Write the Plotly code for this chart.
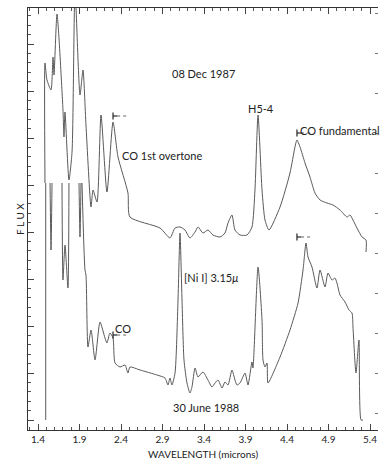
import plotly.graph_objects as go

# ---- data (wavelength in microns, flux in arbitrary units) ----
dec87_wl = [1.484, 1.484, 1.508, 1.557, 1.581, 1.593, 1.629, 1.701, 1.713, 1.725, 1.773, 1.810,
            1.846, 1.906, 1.942, 1.978, 2.039, 2.063, 2.111, 2.159, 2.231, 2.304, 2.364, 2.484,
            2.508, 2.870, 2.990, 3.051, 3.111, 3.171, 3.231, 3.292, 3.328, 3.388, 3.448, 3.508,
            3.593, 3.653, 3.689, 3.737, 3.773, 3.834, 3.918, 3.978, 4.014, 4.051, 4.099, 4.135,
            4.183, 4.316, 4.436, 4.496, 4.520, 4.557, 4.617, 4.677, 4.737, 4.798, 4.882, 4.954,
            5.039, 5.123, 5.159, 5.195, 5.243, 5.304, 5.352, 5.352]
dec87_flux = [247, 367, 350, 340, 373, 355, 416, 320, 293, 318, 250, 278,
              440, 335, 360, 305, 223, 240, 228, 315, 238, 308, 273, 237,
              213, 202, 192, 202, 203, 200, 192, 198, 203, 197, 200, 195,
              193, 197, 207, 215, 200, 195, 195, 203, 240, 315, 240, 210,
              200, 223, 257, 283, 290, 283, 267, 253, 237, 230, 227, 225,
              220, 213, 215, 210, 202, 193, 190, 178]

jun88_wl = [1.493, 1.493, None,
            1.545, 1.557, 1.569, None,
            1.689, 1.701, 1.725, 1.761, 1.773, None,
            1.894, 1.906, 1.918, None,
            1.930, 1.966, 1.978, 2.002, 2.039, 2.087, 2.147, 2.207, 2.231, 2.267, 2.304, 2.328,
            2.388, 2.448, 2.484, 2.508, 2.629, 2.834, 2.930, 2.966, 2.990, 3.014, 3.051, 3.087,
            3.111, 3.135, 3.159, 3.195, 3.231, 3.255, 3.292, 3.328, 3.388, 3.448, 3.496, 3.533,
            3.569, 3.617, 3.653, 3.689, 3.737, 3.773, 3.798, 3.834, 3.894, 3.930, 3.978, 3.990,
            4.051, 4.099, 4.111, 4.135, 4.159, 4.171, 4.316, 4.436, 4.533, 4.593, 4.629, 4.653,
            4.701, 4.761, 4.798, 4.858, 4.894, 4.942, 4.978, 5.002, 5.039, 5.099, 5.147, 5.183,
            5.195, 5.231, 5.267, 5.292, 5.316]
jun88_flux = [10, 247, None,
              247, 180, 247, None,
              247, 150, 185, 142, 247, None,
              247, 193, 247, None,
              247, 160, 155, 83, 100, 70, 108, 92, 87, 97, 92, 67,
              63, 65, 57, 63, 60, 55, 52, 45, 52, 45, 57, 130,
              197, 130, 70, 47, 37, 43, 62, 53, 58, 50, 43, 47,
              50, 42, 48, 45, 60, 50, 45, 47, 57, 45, 68, 62,
              163, 110, 70, 63, 67, 47, 73, 100, 127, 160, 187, 173,
              163, 142, 160, 143, 157, 150, 152, 147, 135, 128, 120, 117,
              103, 57, 90, 10, 10]

# CO band-head markers (start wavelength, flux level)
mark_wl = [2.304, 4.520, 2.304, 4.520]
mark_flux = [314, 297, 95, 193]

xtick_vals = [1.4, 1.9, 2.4, 2.9, 3.4, 3.9, 4.4, 4.9, 5.4]
xtick_text = ["1.4", "1.9", "2.4", "2.9", "3.4", "3.9", "4.4", "4.9", "5.4"]

LINE = "#5a5a5a"
TXT = "#222222"
FONT = "Lato"

fig = go.Figure()
fig.add_trace(go.Scatter(x=dec87_wl, y=dec87_flux, mode="lines",
                         line=dict(color=LINE, width=1, shape="spline", smoothing=0.6),
                         hoverinfo="skip", showlegend=False))
fig.add_trace(go.Scatter(x=jun88_wl, y=jun88_flux, mode="lines", connectgaps=False,
                         line=dict(color=LINE, width=1, shape="spline", smoothing=0.6),
                         hoverinfo="skip", showlegend=False))

for w, f in zip(mark_wl, mark_flux):
    fig.add_trace(go.Scatter(x=[w, w + 0.05], y=[f, f], mode="lines",
                             line=dict(color="#333333", width=1.3), showlegend=False, hoverinfo="skip"))
    fig.add_trace(go.Scatter(x=[w + 0.05, w + 0.17], y=[f, f], mode="lines",
                             line=dict(color="#666666", width=1, dash="dot"), showlegend=False, hoverinfo="skip"))
    fig.add_trace(go.Scatter(x=[w], y=[f], mode="markers",
                             marker=dict(symbol="line-ns", size=5, line=dict(color="#333333", width=1.3)),
                             showlegend=False, hoverinfo="skip"))

# invisible trace for right-hand tick axis
fig.add_trace(go.Scatter(x=[3.0], y=[100], yaxis="y2", mode="markers",
                         marker=dict(opacity=0), showlegend=False, hoverinfo="skip"))

ann = [
    dict(x=3.39, y=357, text="08 Dec 1987", xanchor="center"),
    dict(x=2.388, y=275, text="CO 1st overtone", xanchor="left"),
    dict(x=4.087, y=322, text="H5-4", xanchor="center"),
    dict(x=4.533, y=300, text="CO fundamental", xanchor="left"),
    dict(x=3.135, y=153, text="[Ni I] 3.15<i>μ</i>", xanchor="left"),
    dict(x=2.424, y=102, text="CO", xanchor="center"),
    dict(x=3.42, y=23, text="30 June 1988", xanchor="center"),
]
for a in ann:
    fig.add_annotation(x=a["x"], y=a["y"], text=a["text"], xanchor=a["xanchor"], yanchor="middle",
                       showarrow=False, font=dict(family=FONT, size=11, color=TXT))

fig.add_annotation(xref="paper", yref="paper", x=0.5, y=0, yshift=-24, text="WAVELENGTH (microns)",
                   showarrow=False, xanchor="center", yanchor="middle",
                   font=dict(family=FONT, size=10, color=TXT))
fig.add_annotation(xref="paper", yref="paper", x=0, y=0.5, xshift=-8, text="F L U X", textangle=-90,
                   showarrow=False, xanchor="center", yanchor="middle",
                   font=dict(family=FONT, size=10, color=TXT))

fig.update_layout(
    width=381, height=461,
    margin=dict(l=28, r=3, t=8, b=31),
    paper_bgcolor="white", plot_bgcolor="white",
    xaxis=dict(range=[1.2795, 5.4964], showgrid=False, zeroline=False,
               showline=True, linecolor="#333333", linewidth=1, mirror="ticks",
               tickmode="array", tickvals=xtick_vals, ticktext=xtick_text,
               ticks="inside", ticklen=6, tickcolor="#444444", tickwidth=1,
               tickfont=dict(family=FONT, size=10, color=TXT),
               minor=dict(dtick=0.1, tick0=1.4, ticks="inside", ticklen=3, tickcolor="#555555")),
    yaxis=dict(range=[0, 422], showgrid=False, zeroline=False, showticklabels=False,
               showline=True, linecolor="#333333", linewidth=1,
               tickmode="linear", tick0=10, dtick=47, ticks="inside", ticklen=6, tickcolor="#444444",
               minor=dict(dtick=9.4, tick0=10, ticks="inside", ticklen=3, tickcolor="#555555")),
    yaxis2=dict(range=[0, 422], overlaying="y", side="right", showgrid=False, zeroline=False,
                showticklabels=False, showline=False,
                tickmode="linear", tick0=17, dtick=40, ticks="inside", ticklen=3, tickcolor="#777777"),
)

fig.write_html("out.html")
